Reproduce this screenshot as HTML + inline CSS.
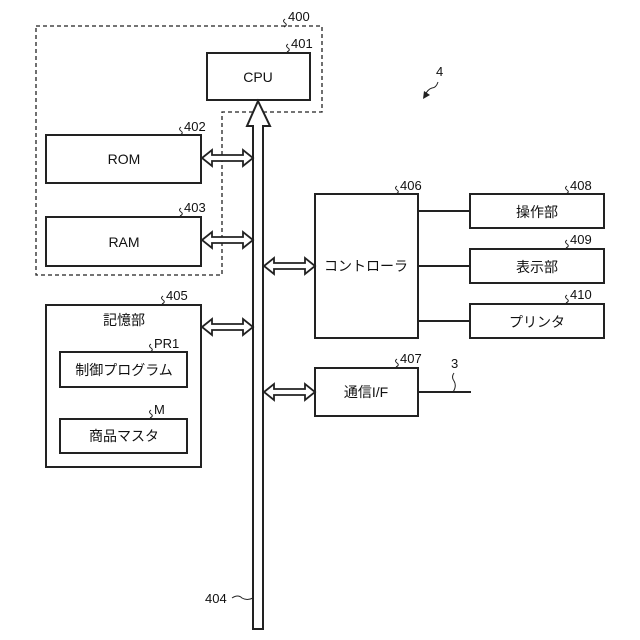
<!DOCTYPE html>
<html><head><meta charset="utf-8"><style>
html,body{margin:0;padding:0;background:#fff;}
svg{display:block;}
text{font-family:"Liberation Sans","Noto Sans CJK JP",sans-serif;fill:#111;}
</style></head><body>
<svg width="640" height="640" viewBox="0 0 640 640" xmlns="http://www.w3.org/2000/svg">
<g fill="none" stroke="#222" stroke-width="1.3" stroke-dasharray="4,3">
<polyline points="36,26 322,26 322,112 222,112 222,275 36,275 36,26"/>
</g>
<g fill="#fff" stroke="#222" stroke-width="2">
<rect x="207" y="53" width="103" height="47"/>
<rect x="46" y="135" width="155" height="48"/>
<rect x="46" y="217" width="155" height="49"/>
<rect x="46" y="305" width="155" height="162"/>
<rect x="60" y="352" width="127" height="35"/>
<rect x="60" y="419" width="127" height="34"/>
<rect x="315" y="194" width="103" height="144"/>
<rect x="315" y="368" width="103" height="48"/>
<rect x="470" y="194" width="134" height="34"/>
<rect x="470" y="249" width="134" height="34"/>
<rect x="470" y="304" width="134" height="34"/>
</g>
<g stroke="#222" stroke-width="2" fill="none">
<line x1="418" y1="211" x2="470" y2="211"/>
<line x1="418" y1="266" x2="470" y2="266"/>
<line x1="418" y1="321" x2="470" y2="321"/>
<line x1="418" y1="392" x2="471" y2="392"/>
</g>
<!-- bus -->
<polygon points="258,101 270,126 263,126 263,629 253,629 253,126 247,126" fill="#fff" stroke="#222" stroke-width="2"/>
<!-- double arrows -->
<g fill="#fff" stroke="#222" stroke-width="1.8">
<polygon points="202,158 212,150 212,155 243,155 243,150 253,158 243,166 243,161 212,161 212,166"/>
<polygon points="202,240 212,232 212,237 243,237 243,232 253,240 243,248 243,243 212,243 212,248"/>
<polygon points="202,327 212,319 212,324 243,324 243,319 253,327 243,335 243,330 212,330 212,335"/>
<polygon points="264,266 274,258 274,263 305,263 305,258 315,266 305,274 305,269 274,269 274,274"/>
<polygon points="264,392 274,384 274,389 305,389 305,384 315,392 305,400 305,395 274,395 274,400"/>
</g>
<!-- text -->
<g font-size="14" text-anchor="middle">
<text x="258" y="82">CPU</text>
<text x="124" y="164">ROM</text>
<text x="124" y="247">RAM</text>
<text x="124" y="325">記憶部</text>
<text x="124" y="375">制御プログラム</text>
<text x="124" y="441">商品マスタ</text>
<text x="366" y="271">コントローラ</text>
<text x="366" y="397">通信I/F</text>
<text x="537" y="217">操作部</text>
<text x="537" y="272">表示部</text>
<text x="537" y="327">プリンタ</text>
</g>
<g font-size="13">
<text x="288" y="21">400</text>
<text x="291" y="48">401</text>
<text x="184" y="131">402</text>
<text x="184" y="212">403</text>
<text x="166" y="300">405</text>
<text x="154" y="348">PR1</text>
<text x="154" y="414">M</text>
<text x="400" y="190">406</text>
<text x="400" y="363">407</text>
<text x="570" y="190">408</text>
<text x="570" y="244">409</text>
<text x="570" y="299">410</text>
<text x="451" y="368">3</text>
<text x="436" y="76">4</text>
<text x="205" y="603">404</text>
</g>
<g fill="none" stroke="#222" stroke-width="1">
<path d="M285,19 q-3,2 0,4 q3,2 -1,4"/>
<path d="M288,44 q-3,2 0,4 q3,2 -1,4"/>
<path d="M181,127 q-3,2 0,4 q3,2 -1,4"/>
<path d="M181,208 q-3,2 0,4 q3,2 -1,4"/>
<path d="M163,296 q-3,2 0,4 q3,2 -1,4"/>
<path d="M151,344 q-3,2 0,4 q3,2 -1,4"/>
<path d="M151,410 q-3,2 0,4 q3,2 -1,4"/>
<path d="M397,186 q-3,2 0,4 q3,2 -1,4"/>
<path d="M397,359 q-3,2 0,4 q3,2 -1,4"/>
<path d="M567,186 q-3,2 0,4 q3,2 -1,4"/>
<path d="M567,240 q-3,2 0,4 q3,2 -1,4"/>
<path d="M567,295 q-3,2 0,4 q3,2 -1,4"/>
<path d="M454,373 q-3,4 0,8 q3,5 -1,11"/>
<path d="M232,598 q6,-4 10,0 q5,3 11,0"/>
<path d="M438,82 q-2,6 -6,6 q-4,1 -7,7"/>
</g>
<polygon points="423,99 424,91 430,95" fill="#222"/>
</svg>
</body></html>
